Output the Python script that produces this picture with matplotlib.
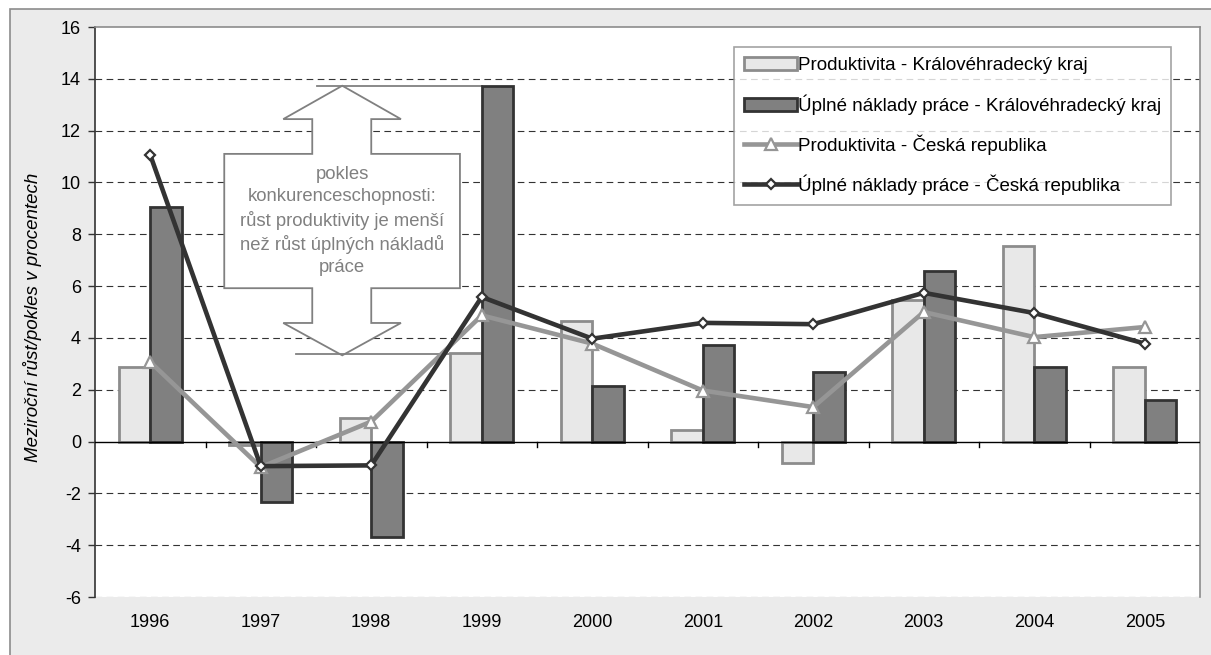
import matplotlib
matplotlib.use("Agg")
import matplotlib.pyplot as plt
import numpy as np
from matplotlib.patches import Polygon, Rectangle

plt.rcParams['font.family'] = ['Liberation Sans', 'DejaVu Sans']

years = ['1996', '1997', '1998', '1999', '2000', '2001', '2002', '2003', '2004', '2005']
prod_kraj = [2.87, -0.15, 0.90, 3.43, 4.65, 0.43, -0.81, 5.48, 7.54, 2.87]
naklady_kraj = [9.06, -2.32, -3.67, 13.74, 2.13, 3.71, 2.68, 6.58, 2.87, 1.59]
prod_cr = [3.07, -0.99, 0.77, 4.87, 3.78, 1.97, 1.33, 5.00, 4.03, 4.42]
naklady_cr = [11.06, -0.95, -0.92, 5.58, 3.97, 4.58, 4.53, 5.74, 4.96, 3.78]

labels = ['Produktivita - Královéhradecký kraj',
          'Úplné náklady práce - Královéhradecký kraj',
          'Produktivita - Česká republika',
          'Úplné náklady práce - Česká republika']

W, H = 1211, 655
fig = plt.figure(figsize=(W / 100, H / 100), dpi=100)
fig.patch.set_facecolor('white')
bg = Rectangle((10 / W, -0.1), 1.2, 1 - 9 / H + 0.1, transform=fig.transFigure,
               facecolor='#ebebeb', edgecolor='#8c8c8c', linewidth=1.2, zorder=-10)
fig.add_artist(bg)

ax = fig.add_axes([95 / W, 1 - 597 / H, 1105 / W, 570 / H])
ax.set_zorder(1)
ax.set_facecolor('white')
x = np.arange(len(years))
bw = 0.287

ax.set_ylim(-6, 16)
ax.set_xlim(-0.5, len(years) - 0.5)
ax.set_yticks(np.arange(-6, 17, 2))
ax.set_yticklabels([str(v) for v in range(-6, 17, 2)], fontsize=13)
for yv in range(-4, 16, 2):
    if yv != 0:
        ax.axhline(yv, color='#333333', linestyle=(0, (6, 4)), linewidth=0.8, zorder=1)
ax.axhline(-6, color='#777777', linestyle=(0, (6, 4)), linewidth=0.8, zorder=1)

h1 = ax.bar(x - bw / 2, prod_kraj, width=bw, color='#e8e8e8', edgecolor='#8c8c8c', linewidth=2, zorder=3)
h2 = ax.bar(x + bw / 2, naklady_kraj, width=bw, color='#808080', edgecolor='#333333', linewidth=2, zorder=3)

ax.axhline(0, color='black', linewidth=1, zorder=4)
for b in np.arange(0.5, len(years) - 0.5, 1):
    ax.plot([b, b], [0, -0.2], color='black', linewidth=1, zorder=4)

h3, = ax.plot(x, prod_cr, color='#969696', linewidth=3.3, marker='^', markersize=8.5,
              markerfacecolor='white', markeredgecolor='#969696', markeredgewidth=1.6, zorder=5)
h4, = ax.plot(x, naklady_cr, color='#333333', linewidth=3.3, marker='D', markersize=5.5,
              markerfacecolor='white', markeredgecolor='#333333', markeredgewidth=1.6, zorder=6)

for s in ['top', 'right']:
    ax.spines[s].set_color('#8c8c8c')
    ax.spines[s].set_linewidth(1.2)
ax.spines['bottom'].set_visible(False)
ax.spines['left'].set_color('#333333')
ax.spines['left'].set_linewidth(1.2)
ax.tick_params(axis='y', length=5, width=1, color='#333333', pad=5)
ax.set_xticks(x)
ax.set_xticklabels(years, fontsize=13)
ax.tick_params(axis='x', length=0, pad=12)

ax.set_ylabel('Meziroční růst/pokles v procentech', fontsize=13.5, style='italic', labelpad=7)
ax.yaxis.set_label_coords(-(95 - 42) / 1105, (597 - 317) / 570)

# annotation arrow (pixel -> data)
def px2d(px, py):
    return ((px - 151) / 110.5, (441 - py) / 25.85)

pts = [(343, 86), (401.7, 119.3), (372, 119.3), (372, 154), (460.7, 154), (460.7, 288),
       (372, 288), (372, 322.7), (401.7, 322.7), (343, 355), (284, 322.7), (313, 322.7),
       (313, 288), (225, 288), (225, 154), (313, 154), (313, 119.3), (284, 119.3)]
poly = Polygon([px2d(*p) for p in pts], closed=True, facecolor='white', edgecolor='#808080',
               linewidth=1.3, zorder=2)
ax.add_patch(poly)
for (x0, x1, yy) in [(318, 483, 86), (297, 473, 354)]:
    a = px2d(x0, yy); b = px2d(x1, yy)
    ax.plot([a[0], b[0]], [a[1], b[1]], color='#808080', linewidth=1.3, zorder=2)
cx, cy = px2d(343, 221)
ax.text(cx, cy, 'pokles\nkonkurenceschopnosti:\nrůst produktivity je menší\nnež růst úplných nákladů\npráce',
        ha='center', va='center', fontsize=13.3, color='#808080', linespacing=1.36, zorder=3)

leg = ax.legend([h1, h2, h3, h4], labels, loc='upper left',
                bbox_to_anchor=((734 - 95) / 1105, (597 - 47) / 570),
                fontsize=13.5, frameon=True, fancybox=False, edgecolor='#8c8c8c',
                handlelength=2.8, handletextpad=0.05, labelspacing=1.05, borderpad=0.55,
                borderaxespad=0)
leg.get_frame().set_linewidth(1.2)
leg.set_zorder(10)

fig.savefig('out.png', dpi=100)
